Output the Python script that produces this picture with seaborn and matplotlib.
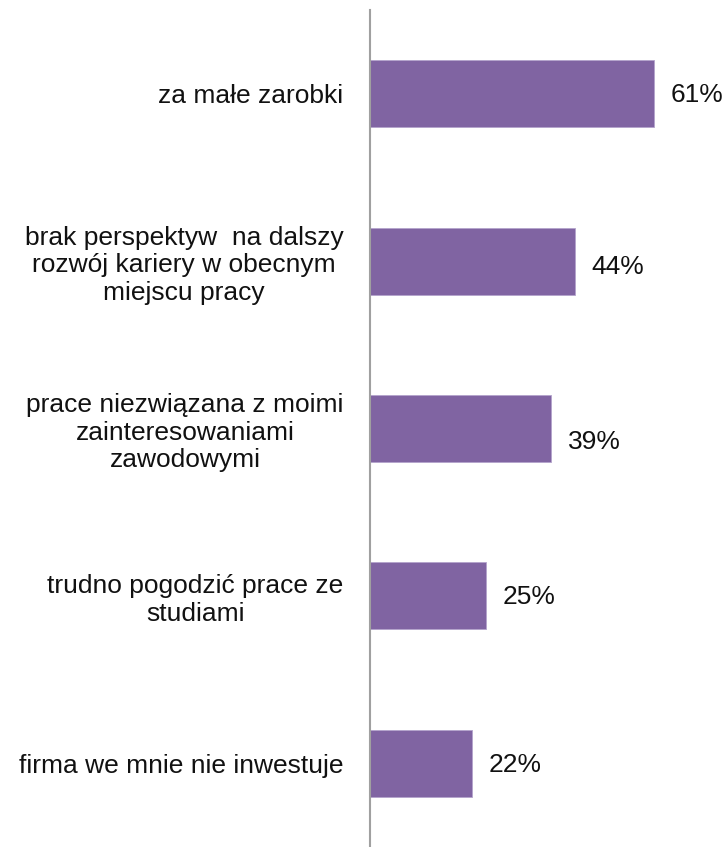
import seaborn as sns
from matplotlib import pyplot as plt
import pandas as pd

categories = [
    "za małe zarobki",
    "brak perspektyw  na dalszy\nrozwój kariery w obecnym\nmiejscu pracy",
    "prace niezwiązana z moimi\nzainteresowaniami\nzawodowymi",
    "trudno pogodzić prace ze\nstudiami",
    "firma we mnie nie inwestuje",
]
values = [61, 44, 39, 25, 22]

df = pd.DataFrame({"Powód": categories, "Procent": values})

sns.set_theme(style="white")
plt.rcParams['font.family'] = ['Liberation Sans', 'DejaVu Sans']

fig = plt.figure(figsize=(7.28, 8.47), dpi=100)
ax = fig.add_axes([370 / 728, 0.0, 1 - 370 / 728, 1 - 10 / 847])

sns.barplot(data=df, x="Procent", y="Powód", color="#8064A2", saturation=1,
            width=0.4, edgecolor="#b4a3cc", linewidth=0.6, ax=ax)

labels = ax.bar_label(ax.containers[0], labels=[f"{v}%" for v in values],
                      padding=12, fontsize=19, color="#111111")
# the data labels in the original sit a bit lower on some bars
for lbl, dy in zip(labels, [-1, -4, -10, -1, -1]):
    lbl.xyann = (12, dy)

ax.set_xlim(0, 77)
ax.set_ylim(4.5, -0.5)
ax.set_xlabel("")
ax.set_ylabel("")
ax.set_xticks([])

for side in ["top", "right", "bottom"]:
    ax.spines[side].set_visible(False)
ax.spines["left"].set_color("#a0a0a0")
ax.spines["left"].set_linewidth(1.5)

ax.tick_params(axis="y", length=0, pad=19, labelsize=19, labelcolor="#111111")
for lbl in ax.get_yticklabels():
    lbl.set_multialignment("center")
    lbl.set_linespacing(1.18)

plt.savefig("out.png", dpi=100)
